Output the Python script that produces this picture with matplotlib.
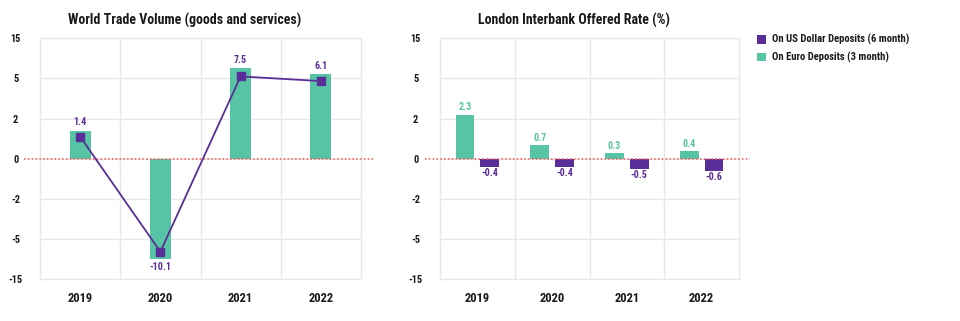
import numpy as np
import matplotlib.pyplot as plt
from matplotlib.transforms import blended_transform_factory

# data
years = ['2019', '2020', '2021', '2022']
trade_bars = [1.4, -10.1, 7.5, 6.1]
trade_line = [1.1, -8.2, 5.5, 4.8]
libor_usd = [-0.4, -0.4, -0.5, -0.6]
libor_eur = [2.3, 0.7, 0.3, 0.4]
yticks = [-15, -5, -2, 0, 2, 5, 15]

GREEN = '#57c5a5'
PURPLE = '#5a2e98'
GRID = '#e8e8e8'
TEXT = '#1a1a1a'

plt.rcParams['font.family'] = ['Roboto Condensed', 'Roboto', 'DejaVu Sans']
WEIGHT = 'bold'

# uneven axis: each tick step gets the same height
steps = np.arange(len(yticks)) - 3


def fwd(v):
    return np.interp(v, yticks, steps)


def inv(u):
    return np.interp(u, steps, yticks)


fig = plt.figure(figsize=(9.6, 3.21), dpi=100)
ax1 = fig.add_axes([40 / 960, 42 / 321, 321 / 960, 240.7 / 321])
ax2 = fig.add_axes([440 / 960, 42 / 321, 299 / 960, 240.7 / 321])

x = np.arange(len(years))

for ax in (ax1, ax2):
    ax.set_yscale('function', functions=(fwd, inv))
    ax.set_ylim(-15, 15)
    ax.set_xlim(-0.5, 3.5)
    ax.set_yticks(yticks)
    ax.set_yticklabels([str(t) for t in yticks], ha='center')
    ax.yaxis.set_minor_locator(plt.NullLocator())
    ax.set_xticks(x)
    ax.set_xticklabels(years)
    ax.tick_params(axis='y', length=0, pad=17.5, labelsize=7.5, labelcolor=TEXT)
    ax.tick_params(axis='x', length=0, pad=9, labelsize=9, labelcolor=TEXT)
    for lab in ax.get_xticklabels() + ax.get_yticklabels():
        lab.set_fontweight(WEIGHT)
    for s in ax.spines.values():
        s.set_color(GRID)
        s.set_linewidth(1)
    for yv in yticks[1:-1]:
        ax.axhline(yv, color=GRID, lw=1, zorder=0)
    for xv in [0.5, 1.5, 2.5]:
        ax.axvline(xv, color=GRID, lw=1, zorder=0)
    tr = blended_transform_factory(ax.transAxes, ax.transData)
    ax.plot([-0.05, 1.037], [0, 0], transform=tr, color='#ff4d4d', lw=1.1,
            ls=(0, (1, 1.5)), clip_on=False, zorder=3)

# left: world trade volume
ax1.bar(x, trade_bars, width=0.26, color=GREEN, zorder=2)
ax1.plot(x, trade_line, color=PURPLE, lw=1.3, marker='s', ms=6, zorder=4)
for xi, v in zip(x, trade_bars):
    off = 2.5 if v > 0 else -2
    ax1.annotate(f'{v:.1f}', (xi, v), xytext=(0, off), textcoords='offset points',
                 ha='center', va='bottom' if v > 0 else 'top', color=PURPLE,
                 fontsize=7.2, fontweight=WEIGHT)

# right: LIBOR
w = 0.25
ax2.bar(x - 0.165, libor_eur, width=w, color=GREEN, zorder=2,
        label='On Euro Deposits (3 month)')
ax2.bar(x + 0.165, libor_usd, width=w, color=PURPLE, zorder=2,
        label='On US Dollar Deposits (6 month)')
for xi, v in zip(x, libor_eur):
    ax2.annotate(f'{v:.1f}', (xi - 0.165, v), xytext=(0, 1.5), textcoords='offset points',
                 ha='center', va='bottom', color=GREEN, fontsize=7.2, fontweight=WEIGHT)
for xi, v in zip(x, libor_usd):
    ax2.annotate(f'{v:.1f}', (xi + 0.165, v), xytext=(0, -1), textcoords='offset points',
                 ha='center', va='top', color=PURPLE, fontsize=7.2, fontweight=WEIGHT)

handles, labels = ax2.get_legend_handles_labels()
leg = ax2.legend(handles[::-1], labels[::-1], loc='upper left',
                 bbox_to_anchor=(1.045, 1.035), frameon=False, fontsize=7.7,
                 handlelength=0.85, handleheight=0.85, handletextpad=0.6,
                 labelspacing=0.6, borderaxespad=0)
for t in leg.get_texts():
    t.set_color(TEXT)
    t.set_fontweight(WEIGHT)

fig.text(184.5 / 960, 1 - 20 / 321, 'World Trade Volume (goods and services)',
         ha='center', va='center', fontsize=10, fontweight=WEIGHT, color=TEXT)
fig.text(574 / 960, 1 - 20 / 321, 'London Interbank Offered Rate (%)',
         ha='center', va='center', fontsize=10, fontweight=WEIGHT, color=TEXT)

fig.savefig('out.png', dpi=100, facecolor='white')
